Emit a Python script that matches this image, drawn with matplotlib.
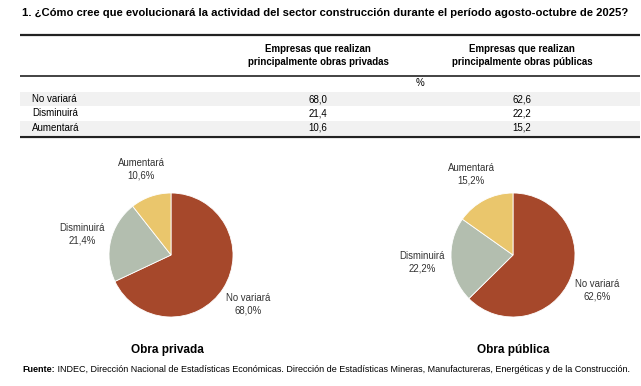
import matplotlib
matplotlib.use("Agg")
import matplotlib.pyplot as plt

categories = ["No variará", "Disminuirá", "Aumentará"]
privada = [68.0, 21.4, 10.6]
publica = [62.6, 22.2, 15.2]
col_headers = ["Empresas que realizan\nprincipalmente obras privadas",
               "Empresas que realizan\nprincipalmente obras públicas"]
pie_titles = ["Obra privada", "Obra pública"]
colors = ["#A6482B", "#B3BEAF", "#EAC66C"]

W, H = 641, 386
fig = plt.figure(figsize=(W / 100, H / 100), dpi=100)
fig.patch.set_facecolor("white")

# background axes in pixel coordinates for the table and texts
bg = fig.add_axes([0, 0, 1, 1])
bg.set_xlim(0, W)
bg.set_ylim(H, 0)
bg.axis("off")

narrow = ["Liberation Sans Narrow", "Liberation Sans", "DejaVu Sans"]
sans = ["Liberation Sans", "DejaVu Sans"]

def fmt(v):
    return f"{v:.1f}".replace(".", ",")

bg.text(22, 13, "1. ¿Cómo cree que evolucionará la actividad del sector construcción durante el período agosto-octubre de 2025?",
        family=sans, weight="bold", fontsize=8.1, va="center", ha="left")

# table lines
for y, lw in [(35, 1.6), (76, 1.2), (137, 1.6)]:
    bg.plot([20, 640], [y, y], color="#222222", lw=lw, solid_capstyle="butt")

col_x = [318, 522]
for x, h in zip(col_x, col_headers):
    bg.text(x, 55.5, h, family=narrow, weight="bold", fontsize=7, ha="center", va="center",
            linespacing=1.35)
bg.text(420, 83, "%", family=narrow, fontsize=7, ha="center", va="center")

row_y = [99, 113.5, 128]
for i, (cat, a, b) in enumerate(zip(categories, privada, publica)):
    y = row_y[i]
    if i % 2 == 0:
        bg.fill_between([20, 640], y - 7, y + 7, color="#F1F1F1", lw=0)
    bg.text(32, y, cat, family=narrow, fontsize=7, ha="left", va="center")
    bg.text(col_x[0], y, fmt(a), family=narrow, fontsize=7, ha="center", va="center")
    bg.text(col_x[1], y, fmt(b), family=narrow, fontsize=7, ha="center", va="center")

# pies
R = 62
k = 2.0
centers = [(171, 255), (513, 255)]
for (cx, cy), vals, title in zip(centers, [privada, publica], pie_titles):
    side = 2 * k * R
    ax = fig.add_axes([(cx - side / 2) / W, (H - cy - side / 2) / H, side / W, side / H])
    labels = [f"{c}\n{fmt(v)}%" for c, v in zip(categories, vals)]
    ax.pie(vals, colors=colors, startangle=90, counterclock=False, labels=labels,
           labeldistance=1.47, wedgeprops=dict(edgecolor="white", linewidth=0.6),
           textprops=dict(family=sans, fontsize=6.9, ha="center", va="center",
                          color="#333333", linespacing=1.3))
    ax.set_xlim(-k, k)
    ax.set_ylim(-k, k)
    ax.set_aspect("equal")
    ax.axis("off")
    bg.text(cx - 4 if cx < 300 else cx, 350, title, family=sans, weight="bold", fontsize=8.5,
            ha="center", va="center")

t1 = bg.text(22, 370, "Fuente:", family=sans, weight="bold", fontsize=6.5, ha="left", va="center")
bg.annotate(" INDEC, Dirección Nacional de Estadísticas Económicas. Dirección de Estadísticas Mineras, Manufactureras, Energéticas y de la Construcción.",
            xy=(1, 0.5), xycoords=t1, ha="left", va="center", family=sans, fontsize=6.5)

fig.savefig("out.png", dpi=100)
